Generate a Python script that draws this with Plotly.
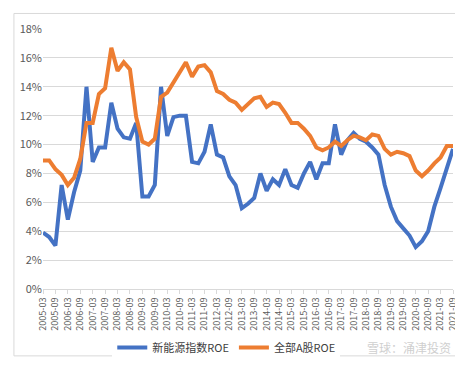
import plotly.graph_objects as go

# Quarterly periods 2005-03 .. 2021-09
years = list(range(2005, 2022))
quarters = ["03", "06", "09", "12"]
categories = [f"{y}-{q}" for y in years for q in quarters][:67]

# 新能源指数ROE (%)
new_energy_roe = [3.9, 3.6, 3.0, 7.2, 4.8, 6.7, 8.2, 14.0, 8.8, 9.8,
                  9.8, 12.9, 11.1, 10.5, 10.4, 11.5, 6.4, 6.4, 7.2, 14.0,
                  10.6, 11.9, 12.0, 12.0, 8.8, 8.7, 9.5, 11.4, 9.3, 9.1,
                  7.8, 7.2, 5.6, 5.9, 6.3, 8.0, 6.8, 7.6, 7.2, 8.3,
                  7.2, 7.0, 8.0, 8.8, 7.6, 8.7, 8.7, 11.4, 9.3, 10.3,
                  10.8, 10.4, 10.2, 9.8, 9.3, 7.2, 5.7, 4.7, 4.2, 3.7,
                  2.9, 3.3, 4.0, 5.7, 7.0, 8.3, 9.7]

# 全部A股ROE (%)
all_a_roe = [8.9, 8.9, 8.3, 7.9, 7.2, 7.7, 9.0, 11.5, 11.5, 13.5,
             13.9, 16.7, 15.1, 15.7, 15.2, 11.9, 10.2, 10.0, 10.4, 13.3,
             13.6, 14.3, 15.1, 15.7, 14.7, 15.4, 15.5, 15.0, 13.7, 13.5,
             13.1, 12.9, 12.4, 12.8, 13.2, 13.3, 12.6, 12.9, 12.8, 12.2,
             11.5, 11.5, 11.1, 10.6, 9.8, 9.6, 9.8, 10.2, 9.9, 10.3,
             10.6, 10.5, 10.3, 10.7, 10.6, 9.7, 9.3, 9.5, 9.4, 9.2,
             8.2, 7.8, 8.2, 8.7, 9.1, 9.9, 9.9]

tick_labels = categories[::2]
y_ticks = list(range(0, 19, 2))

fig = go.Figure()
fig.add_trace(go.Scatter(x=categories, y=new_energy_roe, mode="lines",
                         name="新能源指数ROE",
                         line=dict(color="#4472C4", width=4)))
fig.add_trace(go.Scatter(x=categories, y=all_a_roe, mode="lines",
                         name="全部A股ROE",
                         line=dict(color="#ED7D31", width=4)))

font_family = "Noto Sans CJK SC, Noto Sans, sans-serif"

fig.update_layout(
    width=463, height=366,
    margin=dict(l=30, r=17, t=17, b=73),
    paper_bgcolor="white", plot_bgcolor="white",
    font=dict(family=font_family, color="#595959", size=11),
    showlegend=True,
    legend=dict(orientation="h", x=0.447, xanchor="center", y=-0.225,
                yanchor="middle", font=dict(size=11, color="#404040"),
                itemwidth=30, tracegroupgap=0),
    xaxis=dict(type="category", range=[0, 66], tickmode="array",
               tickvals=tick_labels, ticktext=tick_labels, tickangle=-90,
               tickfont=dict(size=9, color="#595959"),
               showgrid=False, showline=True, linecolor="#d9d9d9",
               ticks="outside", ticklen=4, tickcolor="#d9d9d9"),
    yaxis=dict(range=[0, 18], tickmode="array", tickvals=y_ticks,
               ticktext=[f"{v}%" for v in y_ticks],
               showgrid=True, gridcolor="#d9d9d9", gridwidth=1,
               zeroline=False, showline=False,
               tickfont=dict(size=11, color="#595959")),
    shapes=[dict(type="rect", xref="paper", yref="paper",
                 x0=-29.5 / 416, x1=426.5 / 416,
                 y0=-71 / 276, y1=292.5 / 276,
                 line=dict(color="#d9d9d9", width=1))],
    annotations=[dict(text="雪球：涌津投资", xref="paper", yref="paper",
                      x=1.0, y=-0.225, xanchor="right", yanchor="middle",
                      showarrow=False,
                      font=dict(size=12, color="#cfcfcf", family=font_family))],
)

fig.write_html("out.html")
